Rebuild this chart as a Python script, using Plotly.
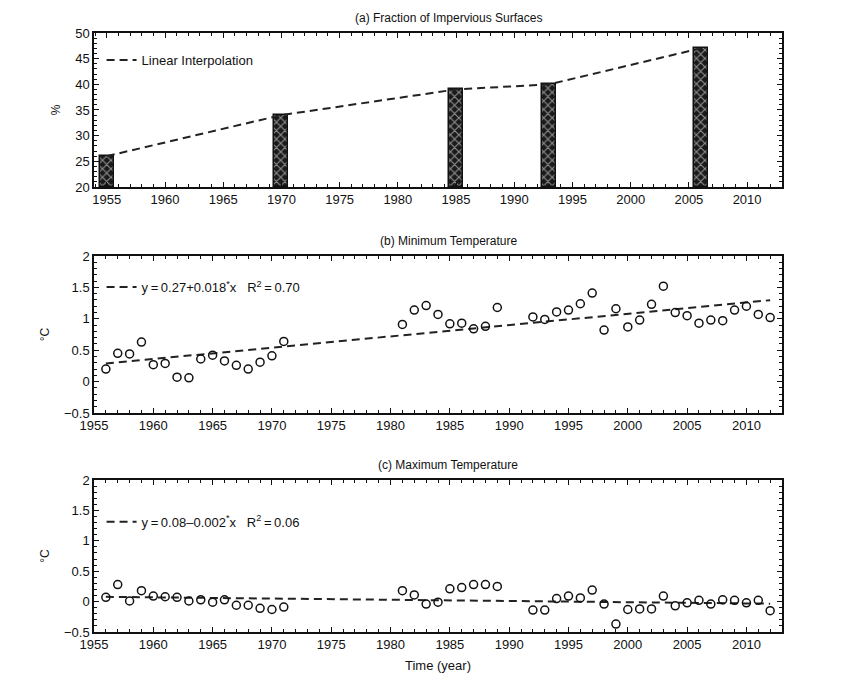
import plotly.graph_objects as go

# ---------------- data ----------------
bar_years = [1955, 1970, 1985, 1993, 2006]
impervious = [26, 34, 39, 40, 47]

temp_years = [1956, 1957, 1958, 1959, 1960, 1961, 1962, 1963, 1964, 1965, 1966, 1967, 1968, 1969, 1970, 1971,
              1981, 1982, 1983, 1984, 1985, 1986, 1987, 1988, 1989,
              1992, 1993, 1994, 1995, 1996, 1997, 1998, 1999, 2000, 2001, 2002, 2003, 2004, 2005, 2006,
              2007, 2008, 2009, 2010, 2011, 2012]
tmin = [0.20, 0.45, 0.44, 0.63, 0.27, 0.29, 0.07, 0.06, 0.36, 0.42, 0.33, 0.26, 0.20, 0.31, 0.41, 0.64,
        0.91, 1.14, 1.21, 1.07, 0.92, 0.93, 0.84, 0.88, 1.18,
        1.03, 0.99, 1.11, 1.14, 1.24, 1.41, 0.82, 1.16, 0.87, 0.98, 1.23, 1.52, 1.10, 1.05, 0.93,
        0.98, 0.97, 1.14, 1.20, 1.07, 1.02]
tmax = [0.07, 0.28, 0.01, 0.18, 0.09, 0.08, 0.07, 0.01, 0.03, -0.01, 0.03, -0.06, -0.06, -0.11, -0.13, -0.09,
        0.18, 0.11, -0.04, -0.01, 0.21, 0.23, 0.28, 0.28, 0.25,
        -0.14, -0.14, 0.05, 0.09, 0.06, 0.19, -0.04, -0.37, -0.13, -0.12, -0.12, 0.09, -0.07, -0.02, 0.02,
        -0.04, 0.03, 0.02, -0.02, 0.02, -0.15]

# fitted trends: y = a + b*x, x = year - 1955
trend_base_year = 1955
trend_span = [1956, 2012]
tmin_fit = (0.27, 0.018)
tmax_fit = (0.08, -0.002)

titles = ["(a) Fraction of Impervious Surfaces", "(b) Minimum Temperature", "(c) Maximum Temperature"]
legend_labels = ["Linear Interpolation",
                 "y\u2009=\u20090.27+0.018<sup>*</sup>x   R<sup>2</sup>\u2009=\u20090.70",
                 "y\u2009=\u20090.08\u20130.002<sup>*</sup>x   R<sup>2</sup>\u2009=\u20090.06"]


def trend(fit):
    a, b = fit
    return [a + b * (yr - trend_base_year) for yr in trend_span]


FONT = "Liberation Sans, Arial, sans-serif"
DASH = "8px,5px"
INK = "#111111"

fig = go.Figure()

# panel a
fig.add_trace(go.Scatter(x=bar_years, y=impervious, mode="lines", name=legend_labels[0],
                         line=dict(color="#222222", width=2, dash=DASH),
                         xaxis="x", yaxis="y", legend="legend"))
fig.add_trace(go.Bar(x=bar_years, y=[v - 20 for v in impervious], base=20, width=1.2,
                     marker=dict(color="#1a1a1a", line=dict(color=INK, width=1.5),
                                 pattern=dict(shape="x", fgcolor="white", bgcolor="#1a1a1a",
                                              size=6, solidity=0.35)),
                     showlegend=False, xaxis="x", yaxis="y"))

# panel b
fig.add_trace(go.Scatter(x=trend_span, y=trend(tmin_fit), mode="lines", name=legend_labels[1],
                         line=dict(color="#222222", width=2, dash=DASH),
                         xaxis="x2", yaxis="y2", legend="legend2"))
fig.add_trace(go.Scatter(x=temp_years, y=tmin, mode="markers", showlegend=False,
                         marker=dict(symbol="circle-open", size=8, color=INK, line=dict(width=1.5)),
                         xaxis="x2", yaxis="y2"))

# panel c
fig.add_trace(go.Scatter(x=trend_span, y=trend(tmax_fit), mode="lines", name=legend_labels[2],
                         line=dict(color="#222222", width=2, dash=DASH),
                         xaxis="x3", yaxis="y3", legend="legend3"))
fig.add_trace(go.Scatter(x=temp_years, y=tmax, mode="markers", showlegend=False,
                         marker=dict(symbol="circle-open", size=8, color=INK, line=dict(width=1.5)),
                         xaxis="x3", yaxis="y3"))

axis_common = dict(showline=True, linecolor=INK, linewidth=1.5, mirror="allticks",
                   ticks="inside", ticklen=5, tickwidth=1, tickcolor=INK,
                   showgrid=False, zeroline=False,
                   tickfont=dict(family=FONT, size=13, color=INK))


def xax(rng, domain_anchor, title=None):
    d = dict(axis_common, range=rng, tick0=1955, dtick=5, anchor=domain_anchor,
             minor=dict(dtick=1, ticks="inside", ticklen=3, tickcolor=INK, showgrid=False))
    if title:
        d["title"] = dict(text=title, font=dict(family=FONT, size=13, color=INK), standoff=10)
    return d


def yax(rng, dtick, minor, domain, anchor, title):
    return dict(axis_common, range=rng, dtick=dtick, domain=domain, anchor=anchor,
                minor=dict(dtick=minor, ticks="inside", ticklen=3, tickcolor=INK, showgrid=False),
                title=dict(text=title, font=dict(family=FONT, size=12, color=INK), standoff=12))


doms = [[0.743, 1.0], [0.3656, 0.6277], [0.0, 0.2538]]

fig.update_layout(
    width=866, height=682,
    margin=dict(l=86, r=92, t=25, b=58),
    paper_bgcolor="white", plot_bgcolor="white",
    font=dict(family=FONT, size=12, color=INK),
    bargap=0,
    xaxis=xax([1953.9, 2013], "y"),
    yaxis=yax([20, 50], 5, 1, doms[0], "x", "%"),
    xaxis2=xax([1955, 2013], "y2"),
    yaxis2=yax([-0.5, 2], 0.5, 0.1, doms[1], "x2", "\u00b0C"),
    xaxis3=xax([1955, 2013], "y3", "Time (year)"),
    yaxis3=yax([-0.5, 2], 0.5, 0.1, doms[2], "x3", "\u00b0C"),
)

leg_common = dict(bgcolor="rgba(0,0,0,0)", borderwidth=0, itemwidth=30,
                  font=dict(family=FONT, size=13, color=INK),
                  xanchor="left", yanchor="middle", x=0.011)
fig.update_layout(
    legend=dict(leg_common, y=0.955),
    legend2=dict(leg_common, y=0.576),
    legend3=dict(leg_common, y=0.184),
)

title_y = [1.025, 0.6528, 0.2788]
for t, ty in zip(titles, title_y):
    fig.add_annotation(text=t, x=0.515, y=ty, xref="paper", yref="paper", showarrow=False,
                       xanchor="center", yanchor="middle",
                       font=dict(family=FONT, size=12, color=INK))

fig.write_html("out.html")
